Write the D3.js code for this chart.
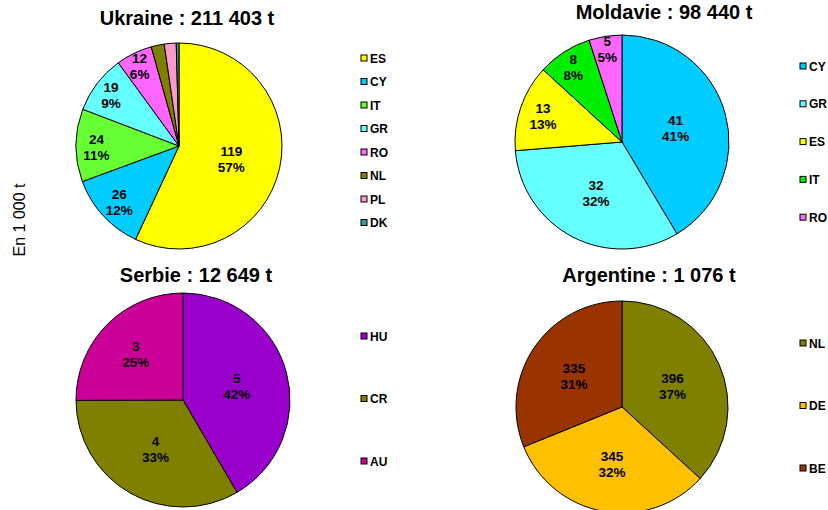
<!DOCTYPE html>
<html>
<head>
<meta charset="utf-8">
<script src="https://cdn.jsdelivr.net/npm/d3@7"></script>
<style>
  html, body { margin: 0; padding: 0; background: #fff; }
  svg { display: block; font-family: "Liberation Sans", Arial, sans-serif; }
</style>
</head>
<body>
<svg id="chart" width="828" height="510"></svg>
<script>
// ---- Data (values in 1 000 t, Argentine in t) ----
const ukraineTitle = "Ukraine : 211 403 t";
const ukraineCountries = ["ES", "CY", "IT", "GR", "RO", "NL", "PL", "DK"];
const ukraineValues = [119.2, 26.1, 23.9, 19.2, 11.9, 4.3, 3.9, 0.9];
const ukraineColors = ["#FFFF00", "#00CCFF", "#66FF33", "#66FFFF", "#FF66FF", "#808000", "#FF99CC", "#339999"];

const moldavieTitle = "Moldavie : 98 440 t";
const moldavieCountries = ["CY", "GR", "ES", "IT", "RO"];
const moldavieValues = [40.8, 31.8, 12.9, 8.1, 4.9];
const moldavieColors = ["#00CCFF", "#66FFFF", "#FFFF00", "#00EE00", "#FF66FF"];

const serbieTitle = "Serbie : 12 649 t";
const serbieCountries = ["HU", "CR", "AU"];
const serbieValues = [5.26, 4.22, 3.17];
const serbieColors = ["#9900CC", "#808000", "#CC0099"];

const argentineTitle = "Argentine : 1 076 t";
const argentineCountries = ["NL", "DE", "BE"];
const argentineValues = [396, 345, 335];
const argentineColors = ["#808000", "#FFC000", "#993300"];

const yAxisLabel = "En 1 000 t";

// ---- Layout ----
const panels = [
  { title: ukraineTitle, cats: ukraineCountries, vals: ukraineValues, cols: ukraineColors,
    cx: 179, cy: 146, r: 103, tx: 187, ty: 25, lx: 361, ly: 58, lstep: 23.5 },
  { title: moldavieTitle, cats: moldavieCountries, vals: moldavieValues, cols: moldavieColors,
    cx: 622, cy: 142, r: 107, tx: 664, ty: 19, lx: 800, ly: 66, lstep: 37.8 },
  { title: serbieTitle, cats: serbieCountries, vals: serbieValues, cols: serbieColors,
    cx: 183, cy: 400, r: 107, tx: 196, ty: 282, lx: 361, ly: 336, lstep: 62.5 },
  { title: argentineTitle, cats: argentineCountries, vals: argentineValues, cols: argentineColors,
    cx: 622, cy: 407, r: 106, tx: 649, ty: 282, lx: 800, ly: 343, lstep: 62.5 }
];

const svg = d3.select("#chart");

svg.append("text")
  .attr("transform", "translate(25,220) rotate(-90)")
  .attr("text-anchor", "middle")
  .attr("font-size", 16)
  .attr("fill", "#000")
  .text(yAxisLabel);

const pie = d3.pie().sort(null).value(d => d.v);

panels.forEach(p => {
  const data = p.cats.map((c, i) => ({ c, v: p.vals[i] }));
  const total = d3.sum(data, d => d.v);
  const color = d3.scaleOrdinal().domain(p.cats).range(p.cols);
  const arcs = pie(data);
  const arc = d3.arc().innerRadius(0).outerRadius(p.r);

  const g = svg.append("g").attr("transform", `translate(${p.cx},${p.cy})`);

  g.selectAll("path.slice").data(arcs).enter().append("path")
    .attr("class", "slice")
    .attr("d", arc)
    .attr("fill", d => color(d.data.c))
    .attr("stroke", "#000")
    .attr("stroke-width", 1)
    .attr("stroke-linejoin", "round");

  // labels (only for slices large enough)
  const labeled = arcs.filter(d => d.data.v / total >= 0.045);
  const lab = g.selectAll("g.lab").data(labeled).enter().append("g")
    .attr("class", "lab")
    .attr("transform", d => {
      const frac = d.data.v / total;
      const k = Math.max(0.52, 0.95 - 1.3 * frac);
      const la = d3.arc().innerRadius(p.r * k).outerRadius(p.r * k);
      const [x, y] = la.centroid(d);
      return `translate(${x},${y})`;
    });
  lab.append("text")
    .attr("text-anchor", "middle")
    .attr("y", -2)
    .attr("font-size", 13.5).attr("font-weight", "bold").attr("fill", "#000")
    .text(d => d3.format("d")(Math.round(d.data.v)));
  lab.append("text")
    .attr("text-anchor", "middle")
    .attr("y", 14)
    .attr("font-size", 13.5).attr("font-weight", "bold").attr("fill", "#000")
    .text(d => Math.round(d.data.v / total * 100) + "%");

  // title
  svg.append("text")
    .attr("x", p.tx).attr("y", p.ty)
    .attr("text-anchor", "middle")
    .attr("font-size", 20).attr("font-weight", "bold").attr("fill", "#000")
    .text(p.title);

  // legend
  const leg = svg.append("g");
  const li = leg.selectAll("g").data(p.cats).enter().append("g")
    .attr("transform", (d, i) => `translate(${p.lx},${p.ly + i * p.lstep})`);
  li.append("rect")
    .attr("x", 0).attr("y", -3).attr("width", 6).attr("height", 6)
    .attr("fill", d => color(d)).attr("stroke", "#000").attr("stroke-width", 1);
  li.append("text")
    .attr("x", 9).attr("y", 4.5)
    .attr("font-size", 12).attr("font-weight", "bold").attr("fill", "#000")
    .text(d => d);
});
</script>
</body>
</html>
